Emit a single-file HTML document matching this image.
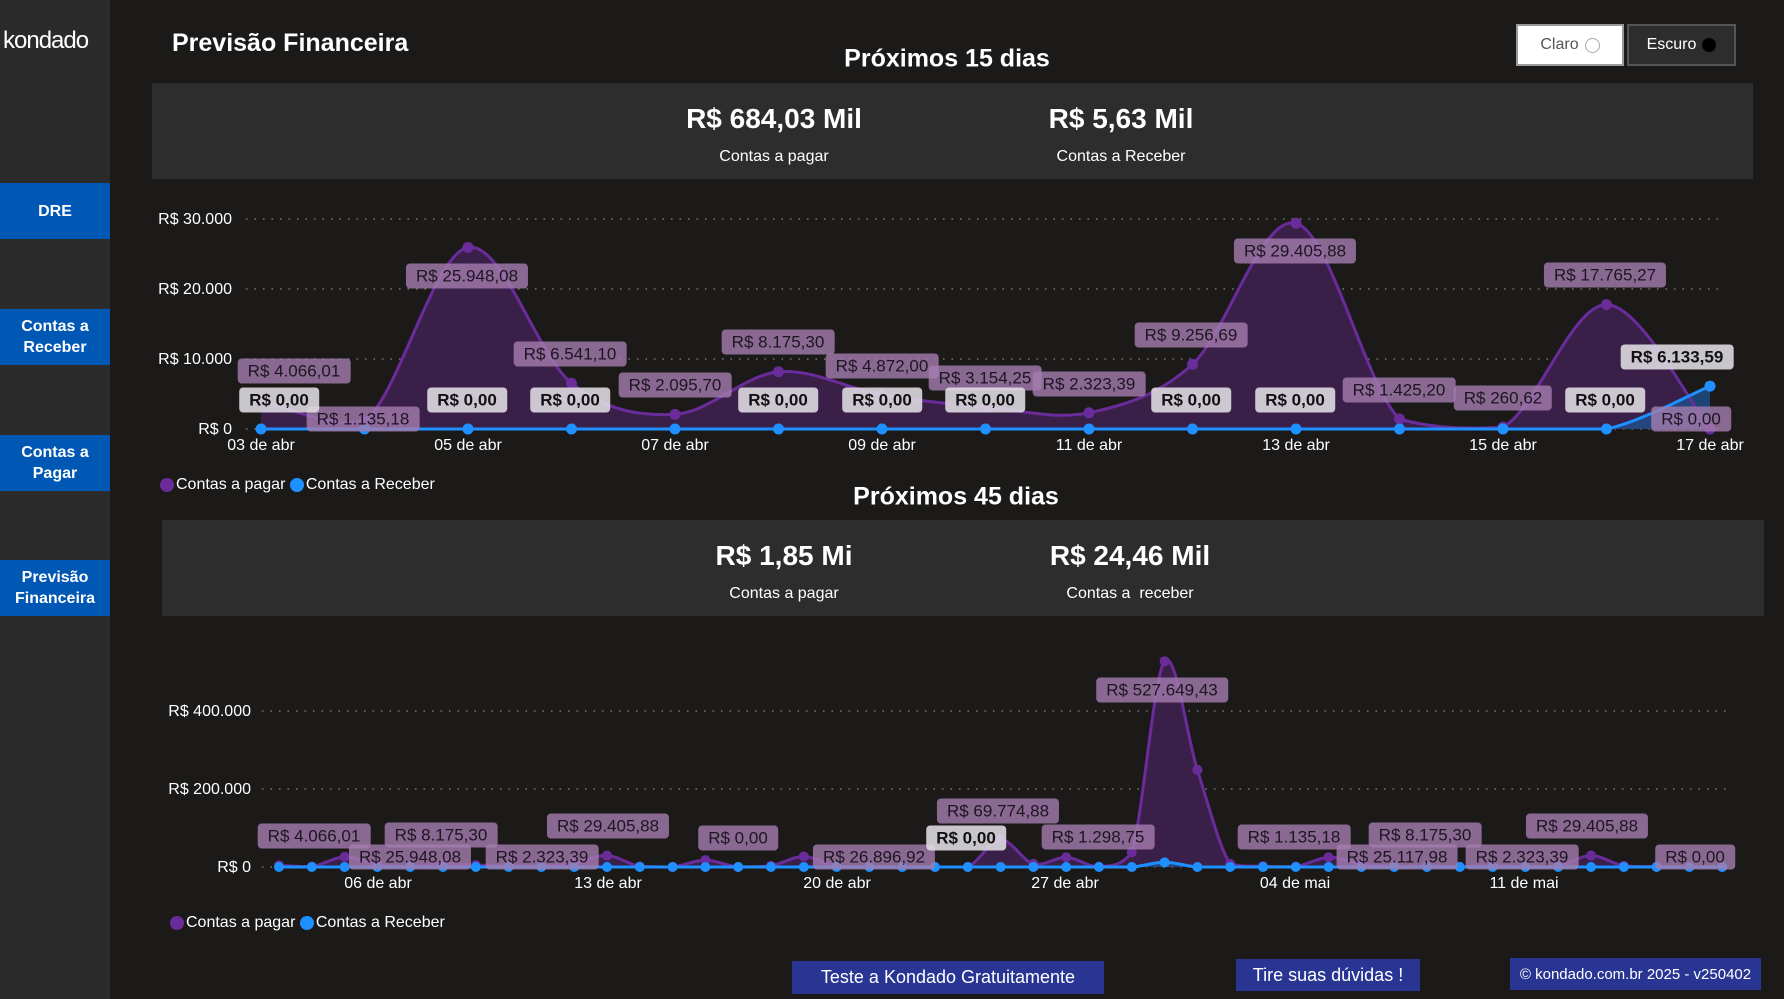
<!DOCTYPE html>
<html><head><meta charset="utf-8">
<style>
*{margin:0;padding:0;box-sizing:border-box}
body{width:1784px;height:999px;background:#1b1a19;font-family:"Liberation Sans",sans-serif;color:#fff;position:relative;overflow:hidden}
.side{position:absolute;left:0;top:0;width:110px;height:999px;background:#2b2b2b}
.logo{position:absolute;left:3px;top:27px;font-size:24px;color:#fff;letter-spacing:-1px}
.btn{position:absolute;left:0;width:110px;background:#0058b4;color:#fff;font-weight:bold;font-size:16px;display:flex;align-items:center;justify-content:center;text-align:center;line-height:21px}
.abs{position:absolute}
.c{position:absolute;transform:translate(-50%,-50%);white-space:nowrap}
.panel{position:absolute;background:#2d2d2d}
.big{font-size:28px;font-weight:bold}
.sub{font-size:16px}
.lp{position:absolute;transform:translate(-50%,-50%);white-space:nowrap;background:rgba(165,125,175,0.8);color:#1e1422;font-size:17px;padding:3px 10px;border-radius:4px;line-height:19px}
.lr{position:absolute;transform:translate(-50%,-50%);white-space:nowrap;background:rgba(225,222,228,0.88);color:#111;font-weight:bold;font-size:17px;padding:3px 10px;border-radius:4px;line-height:19px}
.yl{position:absolute;transform:translateY(-50%);text-align:right;font-size:16px;white-space:nowrap;margin-top:1px}
.xl{position:absolute;transform:translate(-50%,-50%);font-size:16px;white-space:nowrap;margin-top:1px}
.leg{position:absolute;font-size:16px;display:flex;align-items:center}
.dot{width:14px;height:14px;border-radius:50%;display:inline-block;margin-right:2px}
.foot{position:absolute;background:#283593;color:#fff;display:flex;align-items:center;justify-content:center;font-size:18px}
</style></head><body>
<div class="side">
<div class="logo">kondado</div>
<div class="btn" style="top:183px;height:56px">DRE</div>
<div class="btn" style="top:309px;height:56px">Contas a<br>Receber</div>
<div class="btn" style="top:435px;height:56px">Contas a<br>Pagar</div>
<div class="btn" style="top:560px;height:56px">Previsão<br>Financeira</div>
</div>
<div class="abs" style="left:172px;top:29px;font-size:25px;font-weight:bold">Previsão Financeira</div>
<div class="c" style="left:947px;top:59px;font-size:25px;font-weight:bold">Próximos 15 dias</div>
<div class="abs" style="left:1516px;top:24px;width:108px;height:42px;background:#fff;border:2px solid #999;color:#555;font-size:16px;display:flex;align-items:center;justify-content:center">Claro <span style="display:inline-block;width:15px;height:15px;border:1px solid #aaa;border-radius:50%;margin-left:6px"></span></div>
<div class="abs" style="left:1627px;top:24px;width:109px;height:42px;background:#2d2d2d;border:2px solid #555;color:#fff;font-size:16px;display:flex;align-items:center;justify-content:center">Escuro <span style="display:inline-block;width:14px;height:14px;background:#000;border-radius:50%;margin-left:6px"></span></div>

<div class="panel" style="left:152px;top:83px;width:1601px;height:96px"></div>
<div class="c big" style="left:774px;top:119px">R$ 684,03 Mil</div>
<div class="c sub" style="left:774px;top:157px">Contas a pagar</div>
<div class="c big" style="left:1121px;top:119px">R$ 5,63 Mil</div>
<div class="c sub" style="left:1121px;top:157px">Contas a Receber</div>

<div class="panel" style="left:162px;top:520px;width:1602px;height:96px"></div>
<div class="c" style="left:956px;top:497px;font-size:25px;font-weight:bold">Próximos 45 dias</div>
<div class="c big" style="left:784px;top:556px">R$ 1,85 Mi</div>
<div class="c sub" style="left:784px;top:594px">Contas a pagar</div>
<div class="c big" style="left:1130px;top:556px">R$ 24,46 Mil</div>
<div class="c sub" style="left:1130px;top:594px">Contas a &nbsp;receber</div>

<svg class="abs" style="left:0;top:0" width="1784" height="999" id="sv">
<g stroke="#777" stroke-width="1.5" stroke-dasharray="1.5,7">
<line x1="246" x2="1725" y1="219" y2="219"/><line x1="246" x2="1725" y1="289" y2="289"/><line x1="246" x2="1725" y1="359" y2="359"/><line x1="246" x2="1725" y1="429" y2="429"/>
<line x1="262" x2="1730" y1="711" y2="711"/><line x1="262" x2="1730" y1="789" y2="789"/><line x1="262" x2="1730" y1="867" y2="867"/>
</g>
<g id="g1"></g><g id="g2"></g>
</svg>

<div class="yl" style="right:1552px;top:219px">R$ 30.000</div>
<div class="yl" style="right:1552px;top:289px">R$ 20.000</div>
<div class="yl" style="right:1552px;top:359px">R$ 10.000</div>
<div class="yl" style="right:1552px;top:429px">R$ 0</div>
<div class="xl" style="left:261px;top:445px">03 de abr</div>
<div class="xl" style="left:468px;top:445px">05 de abr</div>
<div class="xl" style="left:675px;top:445px">07 de abr</div>
<div class="xl" style="left:882px;top:445px">09 de abr</div>
<div class="xl" style="left:1089px;top:445px">11 de abr</div>
<div class="xl" style="left:1296px;top:445px">13 de abr</div>
<div class="xl" style="left:1503px;top:445px">15 de abr</div>
<div class="xl" style="left:1710px;top:445px">17 de abr</div>
<div class="leg" style="left:160px;top:476px"><span class="dot" style="background:#6a2c9a"></span>Contas a pagar&nbsp;<span class="dot" style="background:#1e90ff"></span>Contas a Receber</div>

<div class="lp" style="left:294px;top:371px">R$ 4.066,01</div>
<div class="lp" style="left:363px;top:419px">R$ 1.135,18</div>
<div class="lp" style="left:467px;top:276px">R$ 25.948,08</div>
<div class="lp" style="left:570px;top:354px">R$ 6.541,10</div>
<div class="lp" style="left:675px;top:385px">R$ 2.095,70</div>
<div class="lp" style="left:778px;top:342px">R$ 8.175,30</div>
<div class="lp" style="left:882px;top:366px">R$ 4.872,00</div>
<div class="lp" style="left:985px;top:378px">R$ 3.154,25</div>
<div class="lp" style="left:1089px;top:384px">R$ 2.323,39</div>
<div class="lp" style="left:1191px;top:335px">R$ 9.256,69</div>
<div class="lp" style="left:1295px;top:251px">R$ 29.405,88</div>
<div class="lp" style="left:1399px;top:390px">R$ 1.425,20</div>
<div class="lp" style="left:1503px;top:398px">R$ 260,62</div>
<div class="lp" style="left:1605px;top:275px">R$ 17.765,27</div>
<div class="lp" style="left:1691px;top:419px">R$ 0,00</div>
<div class="lr" style="left:279px;top:400px">R$ 0,00</div>
<div class="lr" style="left:467px;top:400px">R$ 0,00</div>
<div class="lr" style="left:570px;top:400px">R$ 0,00</div>
<div class="lr" style="left:778px;top:400px">R$ 0,00</div>
<div class="lr" style="left:882px;top:400px">R$ 0,00</div>
<div class="lr" style="left:985px;top:400px">R$ 0,00</div>
<div class="lr" style="left:1191px;top:400px">R$ 0,00</div>
<div class="lr" style="left:1295px;top:400px">R$ 0,00</div>
<div class="lr" style="left:1605px;top:400px">R$ 0,00</div>
<div class="lr" style="left:1677px;top:357px">R$ 6.133,59</div>

<div class="yl" style="right:1533px;top:711px">R$ 400.000</div>
<div class="yl" style="right:1533px;top:789px">R$ 200.000</div>
<div class="yl" style="right:1533px;top:867px">R$ 0</div>
<div class="xl" style="left:378px;top:883px">06 de abr</div>
<div class="xl" style="left:608px;top:883px">13 de abr</div>
<div class="xl" style="left:837px;top:883px">20 de abr</div>
<div class="xl" style="left:1065px;top:883px">27 de abr</div>
<div class="xl" style="left:1295px;top:883px">04 de mai</div>
<div class="xl" style="left:1524px;top:883px">11 de mai</div>
<div class="leg" style="left:170px;top:914px"><span class="dot" style="background:#6a2c9a"></span>Contas a pagar&nbsp;<span class="dot" style="background:#1e90ff"></span>Contas a Receber</div>

<div class="lp" style="left:314px;top:836px">R$ 4.066,01</div>
<div class="lp" style="left:441px;top:835px">R$ 8.175,30</div>
<div class="lp" style="left:410px;top:857px">R$ 25.948,08</div>
<div class="lp" style="left:542px;top:857px">R$ 2.323,39</div>
<div class="lp" style="left:608px;top:826px">R$ 29.405,88</div>
<div class="lp" style="left:738px;top:838px">R$ 0,00</div>
<div class="lp" style="left:874px;top:857px">R$ 26.896,92</div>
<div class="lp" style="left:998px;top:811px">R$ 69.774,88</div>
<div class="lr" style="left:966px;top:838px">R$ 0,00</div>
<div class="lp" style="left:1098px;top:837px">R$ 1.298,75</div>
<div class="lp" style="left:1162px;top:690px">R$ 527.649,43</div>
<div class="lp" style="left:1294px;top:837px">R$ 1.135,18</div>
<div class="lp" style="left:1425px;top:835px">R$ 8.175,30</div>
<div class="lp" style="left:1397px;top:857px">R$ 25.117,98</div>
<div class="lp" style="left:1522px;top:857px">R$ 2.323,39</div>
<div class="lp" style="left:1587px;top:826px">R$ 29.405,88</div>
<div class="lp" style="left:1695px;top:857px">R$ 0,00</div>

<div class="foot" style="left:792px;top:961px;width:312px;height:33px">Teste a Kondado Gratuitamente</div>
<div class="foot" style="left:1236px;top:959px;width:184px;height:32px">Tire suas dúvidas !</div>
<div class="foot" style="left:1510px;top:958px;width:251px;height:32px;font-size:15px">© kondado.com.br 2025 - v250402</div>

<script>
function path(pts,base){
 var d="M"+pts[0][0]+","+pts[0][1];
 for(var i=0;i<pts.length-1;i++){
  var p0=pts[i-1]||pts[i],p1=pts[i],p2=pts[i+1],p3=pts[i+2]||p2;
  var c1x=p1[0]+(p2[0]-p0[0])/6,c1y=Math.min(base,p1[1]+(p2[1]-p0[1])/6);
  var c2x=p2[0]-(p3[0]-p1[0])/6,c2y=Math.min(base,p2[1]-(p3[1]-p1[1])/6);
  d+=" C"+c1x.toFixed(1)+","+c1y.toFixed(1)+" "+c2x.toFixed(1)+","+c2y.toFixed(1)+" "+p2[0].toFixed(1)+","+p2[1].toFixed(1);
 }
 return d;
}
function draw(id,x0,dx,base,k,pag,rec,r){
 var g=document.getElementById(id),s="";
 var pp=pag.map(function(v,i){return [x0+dx*i,base-v*k]});
 var pr=rec.map(function(v,i){return [x0+dx*i,base-v*k]});
 var dp=path(pp,base),dr=path(pr,base);
 var n=pp.length-1;
 s+='<path d="'+dp+' L'+pp[n][0]+','+base+' L'+pp[0][0]+','+base+'Z" fill="#3a2049"/>';
 s+='<path d="'+dr+' L'+pr[n][0]+','+base+' L'+pr[0][0]+','+base+'Z" fill="#1f4f8c" opacity="0.8"/>';
 s+='<path d="'+dp+'" fill="none" stroke="#6a2c9a" stroke-width="3"/>';
 s+='<path d="'+dr+'" fill="none" stroke="#1e90ff" stroke-width="3"/>';
 pp.forEach(function(p){s+='<circle cx="'+p[0]+'" cy="'+p[1]+'" r="'+r+'" fill="#6a2c9a"/>'});
 pr.forEach(function(p){s+='<circle cx="'+p[0]+'" cy="'+p[1]+'" r="'+r+'" fill="#1e90ff"/>'});
 g.innerHTML=s;
}
var p15=[4066,1135,25948,6541,2095,8175,4872,3154,2323,9256,29405,1425,260,17765,0];
var r15=[0,0,0,0,0,0,0,0,0,0,0,0,0,0,6133];
draw("g1",261,103.5,429,0.007,p15,r15,5.5);
var p45=[4066,1135,25948,6541,2095,8175,4872,3154,2323,9256,29405,1425,260,17765,0,3000,26896,2000,1000,500,0,0,69774,8000,25000,1000,38000,527649,249000,8000,2000,1135,25117,8175,2000,2323,1000,3000,1000,2000,29405,3000,1000,500,0];
var r45=[];for(var i=0;i<45;i++)r45.push(i==27?12000:0);
draw("g2",279,32.8,867,0.00039,p45,r45,5);
</script>
</body></html>
